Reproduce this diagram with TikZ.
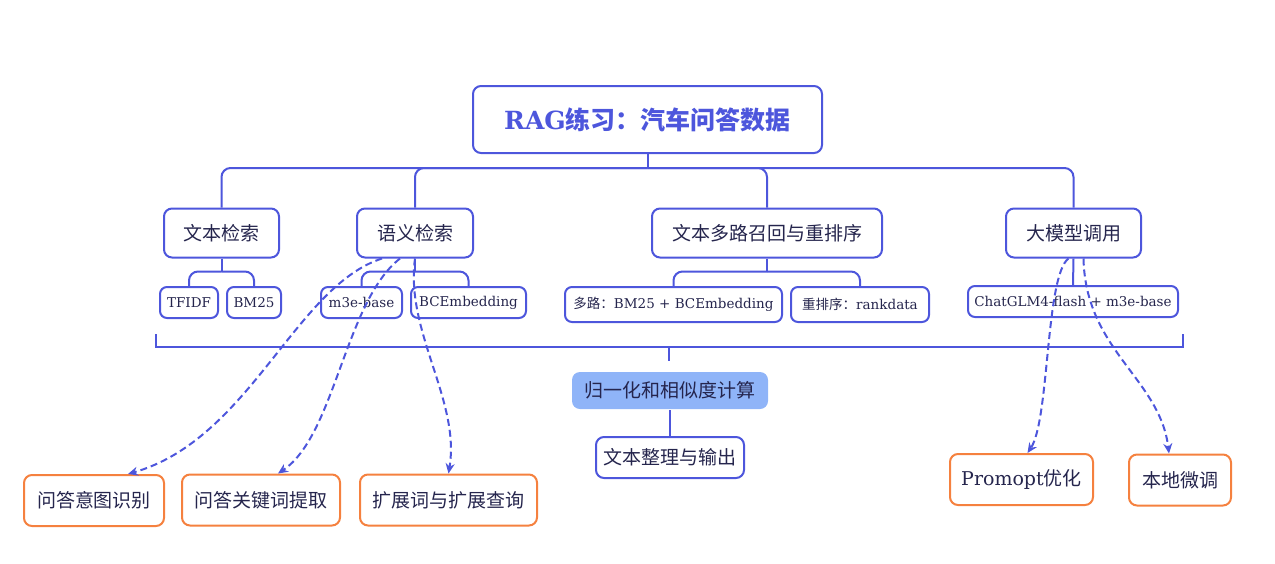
\documentclass[tikz,border=0pt]{standalone}
\usepackage{fontspec}
\setmainfont{DejaVu Serif}
\newfontfamily\cjk{Noto Sans CJK SC}
\usetikzlibrary{arrows.meta,positioning}

\definecolor{cblue}{HTML}{4D56DC}
\definecolor{corange}{HTML}{F5813F}
\definecolor{cfill}{HTML}{8FB4F8}
\definecolor{ctext}{HTML}{25254D}

\tikzset{
  box/.style={draw=cblue, line width=2pt, rounded corners=8pt, text=ctext,
    inner sep=0pt, minimum height=49pt, font=\cjk\fontsize{19}{23}\selectfont},
  leaf/.style={box, rounded corners=7pt, minimum height=31pt,
    font=\rmfamily\fontsize{13.5}{16}\selectfont},
  task/.style={box, draw=corange, minimum height=51pt},
  branch/.style={draw=cblue, line width=2pt, rounded corners=9pt},
  hint/.style={draw=cblue, line width=2pt, dash pattern=on 7pt off 4pt, ->},
}

\begin{document}
\begin{tikzpicture}[x=1pt,y=-1pt,>={Stealth[length=10pt,width=9pt]}]
  \useasboundingbox (0,0) rectangle (1275,563);

  % root and main topics
  \node[box,minimum width=349pt,minimum height=67pt,text=cblue,
    font=\cjk\bfseries\fontsize{25}{30}\selectfont] (root) at (647.5,119.5) {{\rmfamily RAG}练习：汽车问答数据};
  \node[box,minimum width=115pt] (text) at (221.5,233) {文本检索};
  \node[box,minimum width=116pt] (sem) at (415,233) {语义检索};
  \node[box,minimum width=230pt] (multi) at (767,233) {文本多路召回与重排序};
  \node[box,minimum width=135pt] (llm) at (1073.5,233) {大模型调用};

  % leaves
  \node[leaf,minimum width=58pt] (tfidf) at (189,302.5) {TFIDF};
  \node[leaf,minimum width=54pt] (bm) at (254,302.5) {BM25};
  \node[leaf,minimum width=81pt] (m3e) at (361.5,302.5) {m3e-base};
  \node[leaf,minimum width=115pt] (bce) at (468.5,302.5) {BCEmbedding};
  \node[leaf,minimum width=217pt,minimum height=35pt] (mroute) at (673.5,304.5) {{\cjk 多路：}BM25 + BCEmbedding};
  \node[leaf,minimum width=138pt,minimum height=35pt] (rerank) at (860,304.5) {{\cjk 重排序：}rankdata};
  \node[leaf,minimum width=210pt] (chat) at (1073,301.5) {ChatGLM4-flash + m3e-base};

  % pipeline
  \node[box,draw=none,fill=cfill,minimum width=196pt,minimum height=37pt] (norm) at (670,390.5) {归一化和相似度计算};
  \node[box,minimum width=148pt,minimum height=41pt] (out) at (670,457.5) {文本整理与输出};

  % tasks
  \node[task,minimum width=140pt] (intent) at (94,500.5) {问答意图识别};
  \node[task,minimum width=158pt] (kw) at (261,500) {问答关键词提取};
  \node[task,minimum width=177pt] (exp) at (448.5,500) {扩展词与扩展查询};
  \node[task,minimum width=143pt] (prompt) at (1021.5,479.5) {{\rmfamily Promopt}优化};
  \node[task,minimum width=102pt] (local) at (1180,480) {本地微调};

  % tree
  \coordinate (rootfork) at ([yshift=-14pt]root.south);
  \draw[branch] (root.south) -- (rootfork);
  \foreach \n in {text,sem,multi,llm}
    \draw[branch] (rootfork) -| (\n.north);
  \foreach \p/\a/\b in {text/tfidf/bm,sem/m3e/bce,multi/mroute/rerank} {
    \coordinate (\p fork) at ([yshift=-13pt]\p.south);
    \draw[branch] (\p.south) -- (\p fork);
    \draw[branch] (\p fork) -| (\a.north);
    \draw[branch] (\p fork) -| (\b.north);
  }
  \draw[branch] (llm.south) -- (chat.north);

  % bracket
  \coordinate (brk) at (669,347);
  \draw[branch,rounded corners=0pt] (156,334) -- (156,347) -- (1183,347) -- (1183,334);
  \draw[branch] (brk) -- ++(0,14);
  \draw[branch] (norm.south) -- (out.north);

  % dashed hints
  \draw[hint] ([xshift=-33pt]sem.south) .. controls +(-87,28) and +(122,-35) .. ([xshift=34pt]intent.north);
  \draw[hint] ([xshift=-15pt]sem.south) .. controls +(-55,43) and +(57,-38) .. ([xshift=17pt]kw.north);
  \draw[hint] (sem.south) .. controls +(-10,73) and +(12,-73) .. (exp.north);
  \draw[hint] ([xshift=-5pt]llm.south) .. controls +(-23,17) and +(22,-33) .. ([xshift=6pt]prompt.north);
  \draw[hint] ([xshift=10pt]llm.south) .. controls +(2,92) and +(-9,-75) .. ([xshift=-11pt]local.north);
\end{tikzpicture}
\end{document}
